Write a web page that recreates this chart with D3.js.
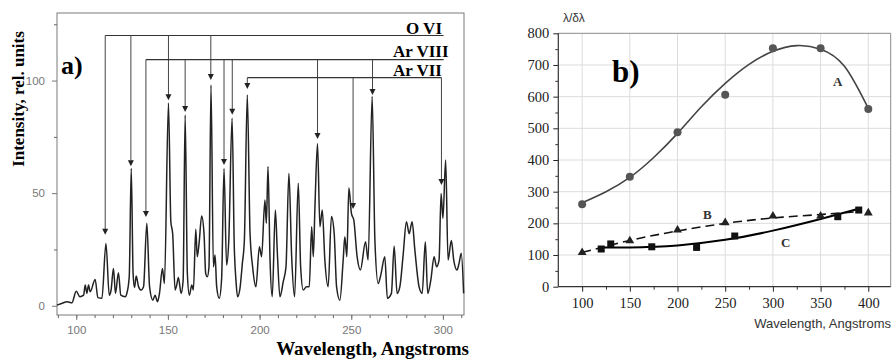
<!DOCTYPE html>
<html>
<head>
<meta charset="utf-8">
<script src="https://cdn.jsdelivr.net/npm/d3@7"></script>
<style>
  body { margin: 0; background: #fff; }
</style>
</head>
<body>
<svg id="chart" width="894" height="364"></svg>
<script>
// ---- panel a) : spectrum ----
const specWl = [89.5, 92, 95, 97.6, 100, 102, 104, 104.9, 105.8, 106.7, 107.6, 110.3, 111.8, 114, 116.2, 118, 119,
  120.3, 121.4, 123, 124.3, 126.7, 127.6, 128.9, 130, 131, 131.8, 132.7, 134, 135.4, 136.7, 138.5, 140, 141.8,
  143, 144.3, 145.4, 147, 148.1, 150.3, 151.6, 152.6, 153.9, 154.8, 155.7, 157.2, 158.3, 159.4, 160.6, 161.7,
  163, 163.9, 165.2, 166, 167, 168.4, 169.7, 170.6, 171.5, 172.4, 173.5, 174.8, 175.7, 176.6, 178, 179.3,
  180.6, 182, 183.2, 185, 186.2, 187.1, 188, 189.3, 190.6, 191.7, 193.3, 194.8, 196.2, 198, 199.9, 201.1,
  202.9, 203.7, 204.6, 205.7, 206.9, 208.6, 209.7, 211.1, 212.9, 214.4, 216, 217.5, 219.1, 221.1, 222.4,
  223.8, 225.6, 227.1, 228.4, 229.3, 230.2, 231.6, 232.9, 234.2, 235.6, 237.4, 239.2, 240.7, 242, 243.8,
  245.6, 246.5, 247.6, 248.7, 250.1, 251.4, 253.2, 255, 257.8, 259.2, 261.4, 262.9, 264.7, 266.1, 268.3,
  269.7, 271.9, 273.4, 275, 276.5, 278.3, 280.1, 281.6, 283.2, 284.7, 287, 288.7, 290.4, 291.7, 293.4,
  295.2, 296.5, 297.9, 299, 300, 301.5, 302.8, 304.6, 305.9, 307.7, 308.8, 310, 311.3];
const specInt = [0.3, 1, 1.8, 1.3, 6.5, 4, 4.7, 9.2, 5.5, 9.2, 6.2, 11.7, 3.6, 3.3, 27.7, 4.7, 7,
  16.6, 5.5, 14.7, 4.7, 4, 5.5, 12.9, 61, 14.4, 8.1, 13.2, 8.4, 7, 8.4, 36.6, 8.4, 2.5,
  4.7, 1.8, 5.5, 16.6, 9.9, 90, 37.3, 32, 7, 9.2, 12.6, 5.5, 11.4, 84.7, 14.4, 4.7,
  9.2, 7, 34, 21.8, 27.7, 39.9, 32, 14.4, 12.9, 17.3, 98, 17.3, 22.5, 8.4, 3.3, 12.1,
  61, 18, 29, 83.3, 26.2, 11.4, 4, 7.7, 18.8, 29, 93.6, 32, 17.3, 8.4, 26.2, 21.8,
  47, 36.6, 61.8, 20.3, 4, 42.5, 23.3, 4, 10.7, 17.3, 58.8, 21.8, 4, 54.4, 17.3,
  7, 8.4, 8.4, 35.1, 21.8, 44, 72, 35.1, 42.5, 20.3, 8.4, 39.6, 32, 8.4, 2.5,
  20.3, 30.7, 21.8, 52.4, 41, 38, 21.8, 15.9, 28.4, 20.3, 92.9, 29, 9.9, 13.6, 21.8,
  3.3, 5.5, 26.5, 5.5, 8.4, 22.5, 37.3, 32, 37.3, 24.7, 8.4, 5.5, 28.4, 5.5, 11.4,
  21.8, 17.3, 20.3, 49.9, 38.8, 64.7, 20.3, 29, 20.3, 15.9, 18.8, 23.3, 5.5];

// line identifications (wavelength of arrow, intensity at arrow tip)
const ionNames = ["O VI", "Ar VIII", "Ar VII"];
const ionLevel = [120, 109.3, 101.3];
const ionEnd = [300.4, 300.4, 299.2];
const oviWl = [115.8, 129.8, 150.3, 173.4];
const oviTip = [31.5, 62, 91.3, 100.3];
const ar8Wl = [138, 159.4, 180.6, 185.1, 231.6, 261.6];
const ar8Tip = [39.4, 86, 62.5, 84.8, 74, 93.6];
const ar7Wl = [193.3, 251, 299.2];
const ar7Tip = [96.3, 43, 53.6];

const aXMajor = [100, 150, 200, 250, 300];
const aXMinor = d3.range(90, 311, 10);
const aYMajor = [0, 50, 100];
const aYMinor = [25, 75, 125];

// ---- panel b) : resolving power ----
const bXTicks = [100, 150, 200, 250, 300, 350, 400];
const bXMinor = [125, 175, 225, 275, 325, 375];
const bYTicks = [0, 100, 200, 300, 400, 500, 600, 700, 800];
const bYMinor = [50, 150, 250, 350, 450, 550, 650, 750];

const aWl = [100, 150, 200, 250, 300, 350, 400];
const aVal = [260, 347, 488, 606, 753, 753, 561];
const aFitWl = [100, 125, 150, 175, 200, 225, 250, 275, 300, 325, 350, 375, 400];
const aFitVal = [265, 300, 345, 408, 484, 568, 642, 702, 743, 761, 750, 696, 563];

const bWl = [100, 150, 200, 250, 300, 350, 400];
const bVal = [108, 145, 179, 202, 223, 223, 233];
const bFitWl = [100, 150, 200, 250, 300, 350, 385];
const bFitVal = [108, 146, 176, 200, 217, 228, 236];

const cWl = [120, 130, 173, 220, 260, 368, 390];
const cVal = [119, 135, 126, 124, 160, 221, 242];
const cFitWl = [120, 150, 175, 200, 250, 300, 350, 390];
const cFitVal = [124, 124, 126, 130, 148, 177, 214, 246];

const sans = '"Liberation Sans", Arial, sans-serif';
const serif = '"Liberation Serif", "Times New Roman", serif';

const svg = d3.select('#chart');

function label(g, x, y, txt, font, size, weight, anchor, fill) {
  return g.append('text')
    .attr('x', x).attr('y', y)
    .attr('text-anchor', anchor || 'start')
    .attr('fill', fill || '#000')
    .style('font-family', font)
    .style('font-size', size)
    .style('font-weight', weight || 'normal')
    .text(txt);
}

function styleAxis(g, color, fontFamily, fontSize) {
  g.attr('font-family', null);
  g.select('.domain').remove();
  g.selectAll('line').attr('stroke', color);
  g.selectAll('text').attr('fill', color)
    .style('font-family', fontFamily).style('font-size', fontSize);
}

// ================= panel a =================
const xA = d3.scaleLinear().domain([89.5, 311.5]).range([57, 464]);
const yA = d3.scaleLinear().domain([-4.1, 130]).range([315, 13]);

const pa = svg.append('g');

pa.append('rect')
  .attr('x', 57).attr('y', 13).attr('width', 407).attr('height', 302)
  .attr('fill', 'none').attr('stroke', '#7a7a7a').attr('stroke-width', 1);

pa.append('g').attr('transform', 'translate(0,315)')
  .call(d3.axisBottom(xA).tickValues(aXMinor).tickSize(3).tickFormat(''))
  .call(g => styleAxis(g, '#666', sans, '11px'));
pa.append('g').attr('transform', 'translate(0,315)')
  .call(d3.axisBottom(xA).tickValues(aXMajor).tickSize(5).tickPadding(6))
  .call(g => styleAxis(g, '#777', sans, '11.5px'));
pa.append('g').attr('transform', 'translate(57,0)')
  .call(d3.axisLeft(yA).tickValues(aYMinor).tickSize(3).tickFormat(''))
  .call(g => styleAxis(g, '#666', sans, '11px'));
pa.append('g').attr('transform', 'translate(57,0)')
  .call(d3.axisLeft(yA).tickValues(aYMajor).tickSize(5).tickPadding(7))
  .call(g => styleAxis(g, '#777', sans, '11.5px'));

const spec = specWl.map((w, i) => ({ w: w, v: specInt[i] }));
pa.append('path')
  .datum(spec)
  .attr('fill', 'none')
  .attr('stroke', '#222')
  .attr('stroke-width', 1.5)
  .attr('stroke-linejoin', 'round')
  .attr('d', d3.line().x(d => xA(d.w)).y(d => yA(d.v)).curve(d3.curveMonotoneX));

// arrows
const ions = [
  { wl: oviWl, tip: oviTip },
  { wl: ar8Wl, tip: ar8Tip },
  { wl: ar7Wl, tip: ar7Tip }
];
ions.forEach((ion, k) => {
  const yl = yA(ionLevel[k]);
  const g = pa.append('g');
  g.append('line')
    .attr('x1', xA(ion.wl[0])).attr('x2', xA(ionEnd[k]))
    .attr('y1', yl).attr('y2', yl)
    .attr('stroke', '#333').attr('stroke-width', 1.1);
  ion.wl.forEach((w, i) => {
    const x = xA(w), yt = yA(ion.tip[i]);
    g.append('line')
      .attr('x1', x).attr('x2', x).attr('y1', yl).attr('y2', yt - 4)
      .attr('stroke', '#444').attr('stroke-width', 1);
    g.append('path')
      .attr('d', `M${x - 3},${yt - 6}L${x + 3},${yt - 6}L${x},${yt}Z`)
      .attr('fill', '#222');
  });
});

label(pa, 442, 34, ionNames[0], serif, '17px', 'bold', 'end');
label(pa, 393, 57, ionNames[1], serif, '17px', 'bold');
label(pa, 393, 76, ionNames[2], serif, '17px', 'bold');
label(pa, 61, 74, 'a)', serif, '26px', 'bold');

pa.append('text')
  .attr('transform', 'translate(24,99) rotate(-90)')
  .attr('text-anchor', 'middle')
  .style('font-family', serif)
  .style('font-weight', 'bold').style('font-size', '17px')
  .text('Intensity, rel. units');

label(pa, 469, 355, 'Wavelength, Angstroms', serif, '19px', 'bold', 'end');

// ================= panel b =================
const xB = d3.scaleLinear().domain([75, 423.5]).range([558.3, 890.7]);
const yB = d3.scaleLinear().domain([0, 800]).range([286.7, 33.3]);

const pb = svg.append('g');

pb.append('g').selectAll('line').data(bXTicks).join('line')
  .attr('x1', d => xB(d)).attr('x2', d => xB(d))
  .attr('y1', yB(800)).attr('y2', yB(0))
  .attr('stroke', '#dcdcdc').attr('stroke-width', 1);
pb.append('g').selectAll('line').data(bYTicks.slice(1, -1)).join('line')
  .attr('x1', xB(75)).attr('x2', xB(423.5))
  .attr('y1', d => yB(d)).attr('y2', d => yB(d))
  .attr('stroke', '#dcdcdc').attr('stroke-width', 1);

// frame top and right
pb.append('path')
  .attr('d', `M${xB(75)},${yB(800)}H${xB(423.5)}V${yB(0)}`)
  .attr('fill', 'none').attr('stroke', '#8a8a8a').attr('stroke-width', 1);

pb.append('g').attr('transform', `translate(0,${yB(0)})`)
  .call(d3.axisBottom(xB).tickValues(bXMinor).tickSize(3).tickFormat(''))
  .call(g => styleAxis(g, '#333', serif, '14px'));
pb.append('g').attr('transform', `translate(0,${yB(0)})`)
  .call(d3.axisBottom(xB).tickValues(bXTicks).tickSize(5).tickPadding(6))
  .call(g => styleAxis(g, '#222', serif, '14.5px'));
pb.append('g').attr('transform', `translate(${xB(75)},0)`)
  .call(d3.axisLeft(yB).tickValues(bYMinor).tickSize(3).tickFormat(''))
  .call(g => styleAxis(g, '#333', serif, '14px'));
pb.append('g').attr('transform', `translate(${xB(75)},0)`)
  .call(d3.axisLeft(yB).tickValues(bYTicks).tickSize(5).tickPadding(4))
  .call(g => styleAxis(g, '#222', serif, '14.5px'));

pb.append('line')
  .attr('x1', xB(75)).attr('x2', xB(423.5)).attr('y1', yB(0)).attr('y2', yB(0))
  .attr('stroke', '#333').attr('stroke-width', 1.2);
pb.append('line')
  .attr('x1', xB(75)).attr('x2', xB(75)).attr('y1', yB(0)).attr('y2', yB(800))
  .attr('stroke', '#333').attr('stroke-width', 1.2);

const fitLine = d3.line().x(d => xB(d[0])).y(d => yB(d[1])).curve(d3.curveNatural);

pb.append('path')
  .datum(aFitWl.map((w, i) => [w, aFitVal[i]]))
  .attr('fill', 'none').attr('stroke', '#444').attr('stroke-width', 1.6)
  .attr('d', fitLine);
pb.append('path')
  .datum(bFitWl.map((w, i) => [w, bFitVal[i]]))
  .attr('fill', 'none').attr('stroke', '#111').attr('stroke-width', 1.6)
  .attr('stroke-dasharray', '9,5')
  .attr('d', fitLine);
pb.append('path')
  .datum(cFitWl.map((w, i) => [w, cFitVal[i]]))
  .attr('fill', 'none').attr('stroke', '#000').attr('stroke-width', 2)
  .attr('d', fitLine);

pb.append('g').selectAll('circle').data(aWl.map((w, i) => [w, aVal[i]])).join('circle')
  .attr('cx', d => xB(d[0])).attr('cy', d => yB(d[1])).attr('r', 4)
  .attr('fill', '#555');
pb.append('g').selectAll('path').data(bWl.map((w, i) => [w, bVal[i]])).join('path')
  .attr('transform', d => `translate(${xB(d[0])},${yB(d[1])})`)
  .attr('d', d3.symbol().type(d3.symbolTriangle).size(34))
  .attr('fill', '#222');
pb.append('g').selectAll('rect').data(cWl.map((w, i) => [w, cVal[i]])).join('rect')
  .attr('x', d => xB(d[0]) - 3.5).attr('y', d => yB(d[1]) - 3.5)
  .attr('width', 7).attr('height', 7)
  .attr('fill', '#111');

label(pb, 612, 82, 'b)', serif, '31px', 'bold');
label(pb, 833, 86, 'A', serif, '13px', 'bold', 'start', '#333');
label(pb, 703, 219, 'B', serif, '13px', 'bold', 'start', '#333');
label(pb, 781, 247, 'C', serif, '13px', 'bold', 'start', '#333');

label(pb, 563, 22, 'λ/δλ', sans, '12px', 'normal', 'start', '#333');
label(pb, 891, 328, 'Wavelength, Angstroms', sans, '13px', 'normal', 'end', '#333');
</script>
</body>
</html>
